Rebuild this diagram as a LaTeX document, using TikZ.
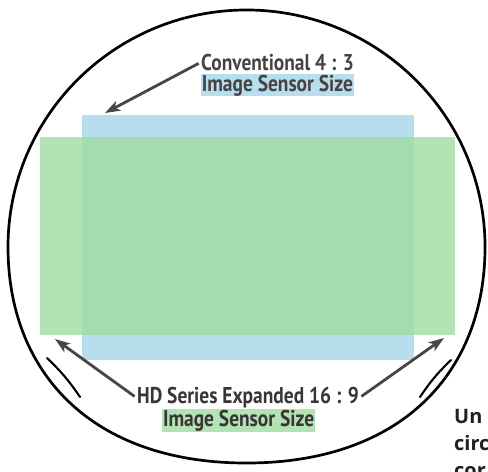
\documentclass[tikz,border=0pt]{standalone}
\usepackage{fontspec}
\setmainfont{Open Sans}
\newfontfamily\capfont[FakeStretch=0.85]{PT Sans}
\usetikzlibrary{arrows.meta,positioning}
\definecolor{sensorblue}{HTML}{B6DEEC}
\definecolor{sensorgreen}{HTML}{A0DBA1}
\definecolor{arrowgray}{HTML}{4A4444}
\definecolor{labelgray}{HTML}{4A4242}
\definecolor{inkblack}{HTML}{231F20}
\setlength{\fboxsep}{0.5pt}

\begin{document}
\begin{tikzpicture}[%
  x=0.03cm, y=-0.03cm,
  sensor/.style={rectangle, inner sep=0pt, anchor=north west},
  caption/.style={inner sep=0pt, font=\capfont\bfseries\fontsize{19.5}{17.5}\selectfont},
  pointer/.style={draw=arrowgray, line width=2.4pt, -{Stealth[length=13pt,width=9pt,inset=3.5pt]}},]
  \useasboundingbox (0,0) rectangle (488,471);
  % sensor areas
  \node[sensor, fill=sensorblue, minimum width=9.96cm, minimum height=7.35cm] (sd43) at (82,115) {};
  \node[sensor, fill=sensorgreen, fill opacity=0.8, minimum width=12.45cm, minimum height=5.94cm] (hd169) at (40,137) {};
  % lens circle
  \draw[line width=2.3pt] (8,247) arc[start angle=180, end angle=0, x radius=7.155cm, y radius=7.11cm]
    .. controls (485,372) and (402,463) .. (246.5,463)
    .. controls (91,463) and (8,372) .. cycle;
  \draw[line width=1.8pt, line cap=round] (47,358) to[bend left=6] (80,397);
  \draw[line width=1.8pt, line cap=round] (451,360) to[bend right=6] (420,397);
  {\small
    \node[caption, text=labelgray, align=left, anchor=north west] (sdlabel) at (201,54)
      {Conventional 4 : 3\\\colorbox{sensorblue}{Image Sensor Size}};
    \node[caption, text=inkblack!90, align=center, anchor=north] (hdlabel) at (248,387)
      {HD Series Expanded 16 : 9\\\colorbox{sensorgreen!80}{Image Sensor Size}\hspace*{16pt}};
    \coordinate (sdtip) at (105,113);
    \coordinate (hdleft) at (55,339);
    \coordinate (hdright) at (444,338);
    \draw[pointer] ([xshift=-2pt,yshift=-8pt]sdlabel.north west) -- (sdtip);
    \draw[pointer] ([xshift=-2pt,yshift=-8pt]hdlabel.north west) -- (hdleft);
    \draw[pointer] ([xshift=2pt,yshift=-8pt]hdlabel.north east) -- (hdright);
  }
  % cut-off page text
  \begin{scope}
    \clip (0,0) rectangle (488,471);
    \node[anchor=north west, align=left, inner sep=0pt, text=inkblack,
      font=\bfseries\fontsize{17}{23}\selectfont] (note) at (454,409) {Un\\circ\\cor};
  \end{scope}
\end{tikzpicture}
\end{document}
